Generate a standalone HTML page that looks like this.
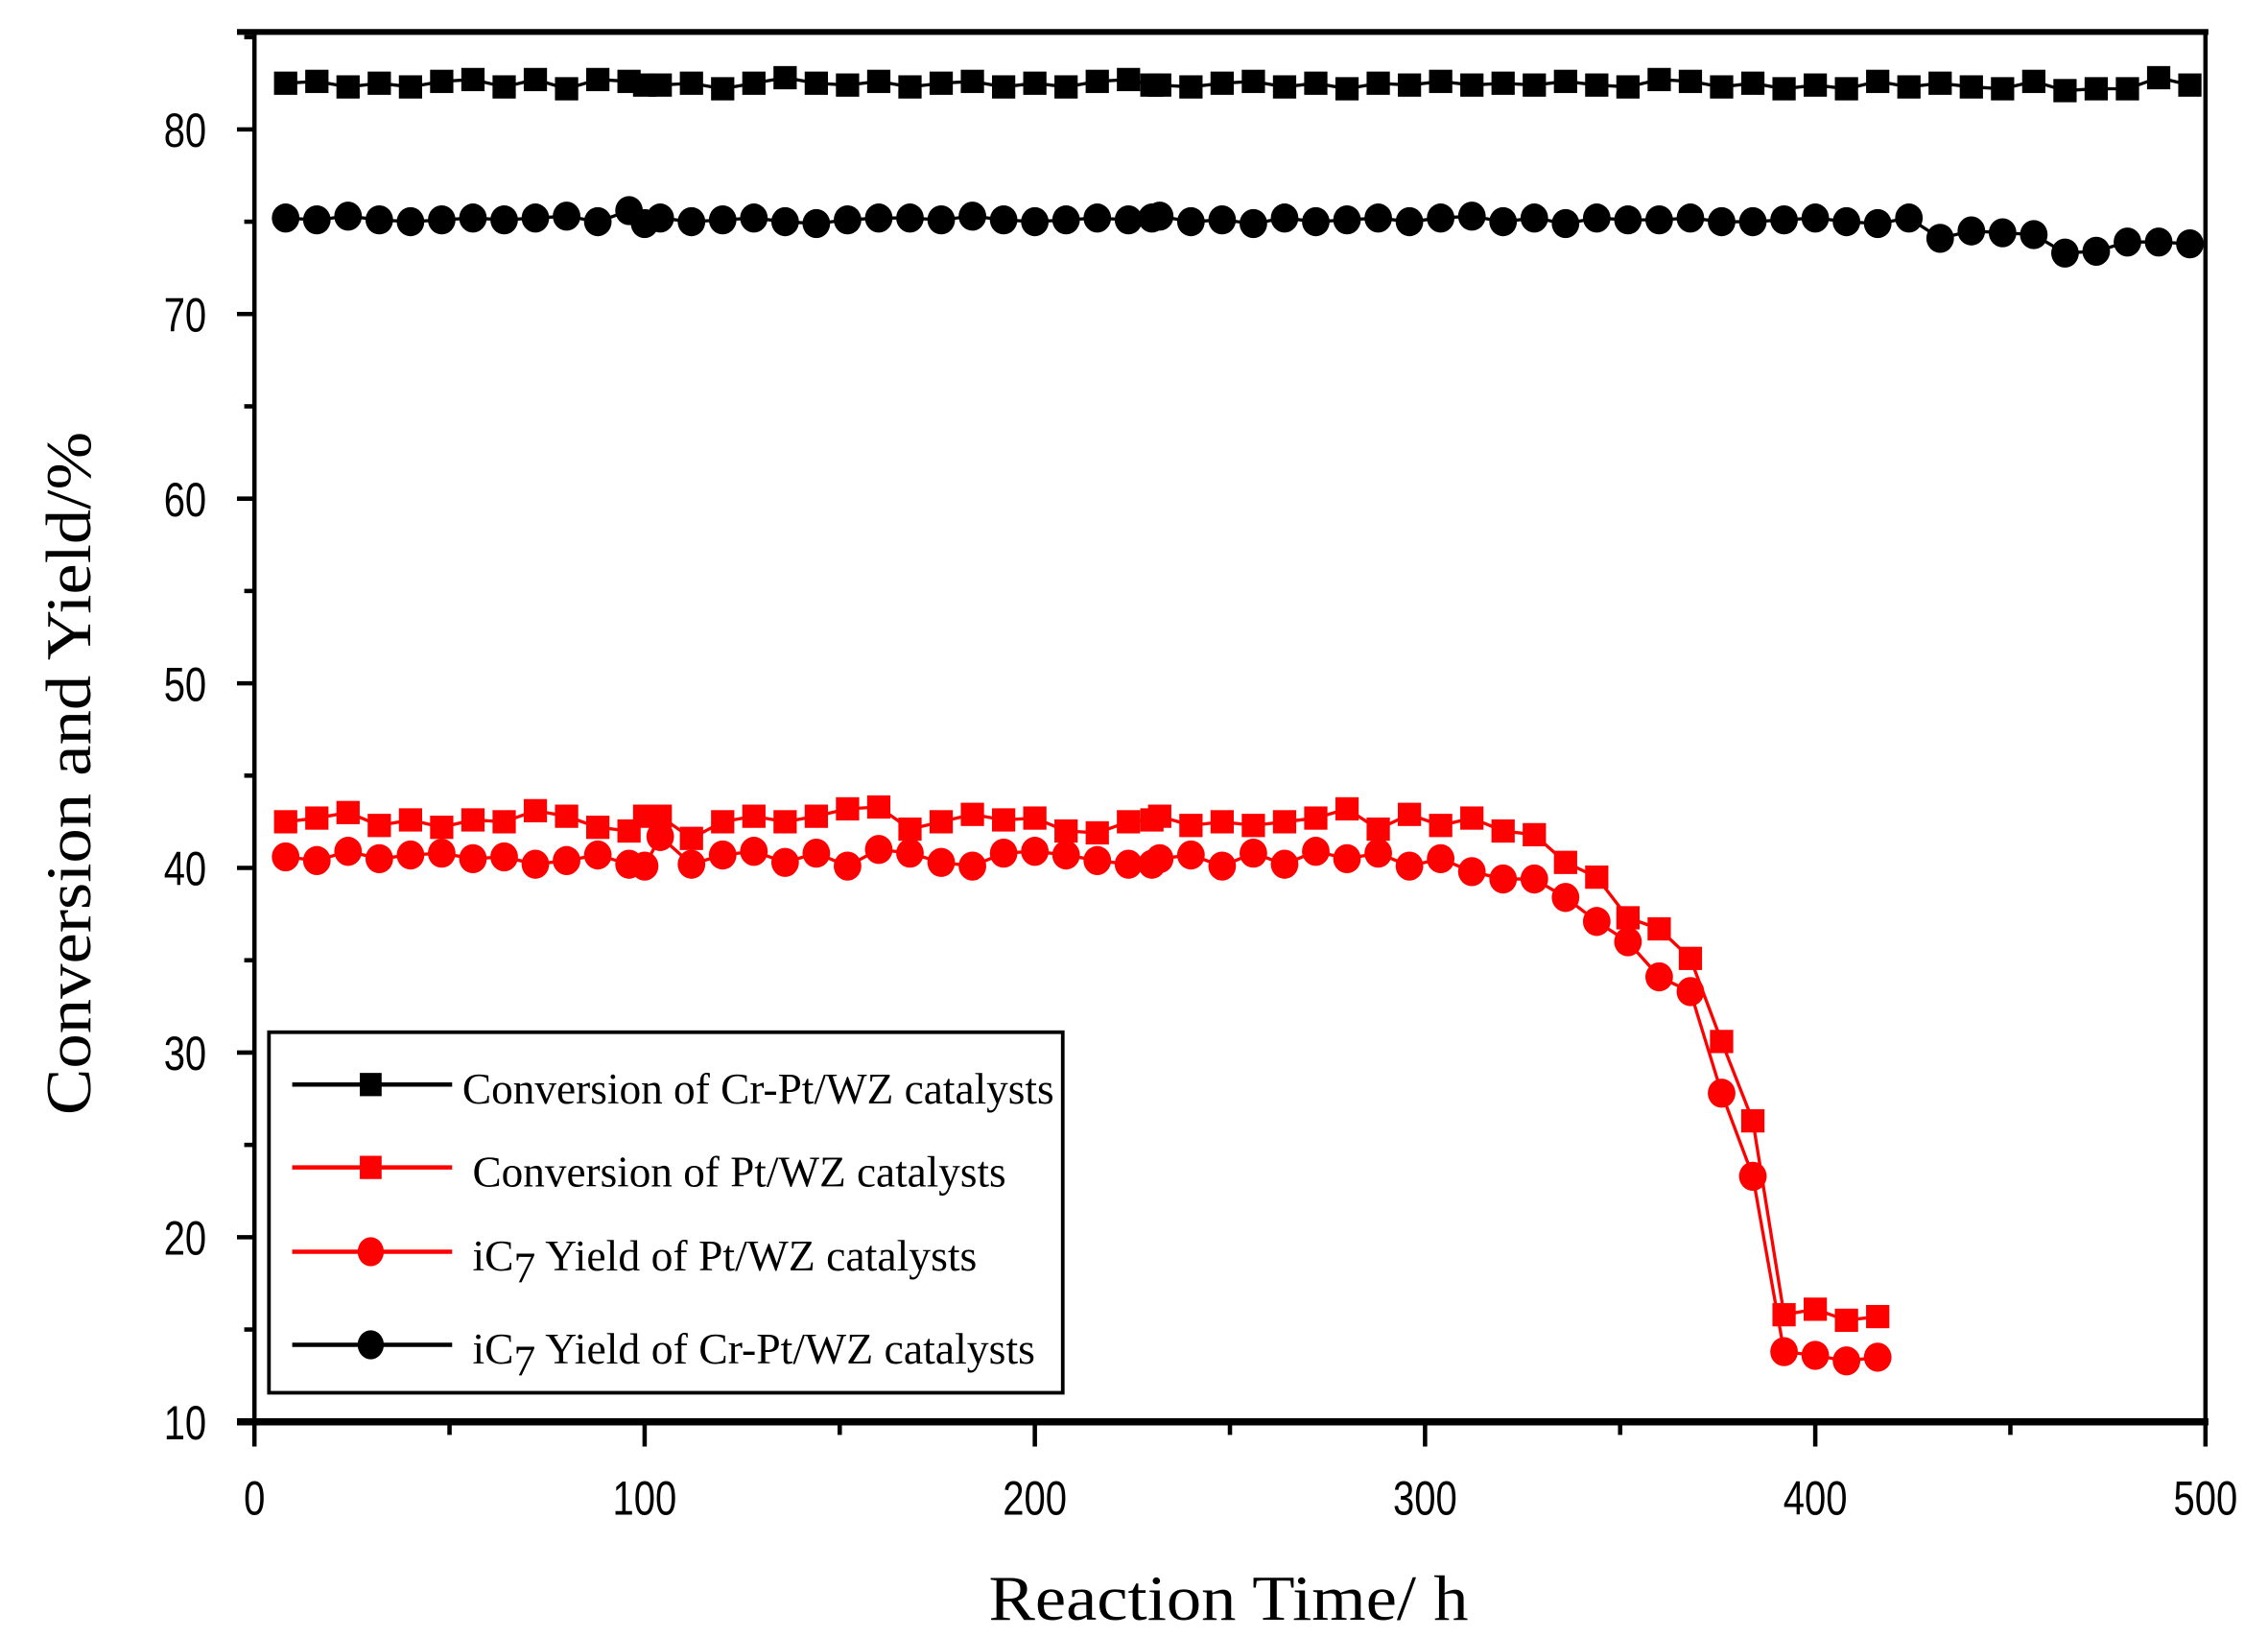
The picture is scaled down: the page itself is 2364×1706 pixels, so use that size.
<!DOCTYPE html>
<html><head><meta charset="utf-8"><style>
html,body{margin:0;padding:0;background:#fff;}
svg{display:block;}
</style></head><body>
<svg id="s" width="2364" height="1706" viewBox="0 0 1560 1126" preserveAspectRatio="none" xmlns="http://www.w3.org/2000/svg">
<rect width="1560" height="1126" fill="#fff"/>
<g id="series"></g>
<g id="axes" stroke="#000" fill="none">
<line x1="175" y1="22" x2="175" y2="980" stroke-width="3"/>
<line x1="1517" y1="22" x2="1517" y2="980" stroke-width="3"/>
<line x1="163" y1="22" x2="1519" y2="22" stroke-width="4"/>
<line x1="163" y1="978" x2="1519" y2="978" stroke-width="5"/>
</g>
<g id="ticks" stroke="#000" stroke-width="3"></g>
<g font-family="Liberation Sans, sans-serif" font-size="33" fill="#000" id="labels"></g>
<g id="legend">
<rect x="185" y="710" width="546" height="248" fill="#fff" stroke="#000" stroke-width="2.5"/>
</g>
<text x="845" y="1114" font-family="Liberation Serif, serif" font-size="44" text-anchor="middle" textLength="330" lengthAdjust="spacingAndGlyphs">Reaction Time/ h</text>
<text transform="translate(62,532) rotate(-90)" font-family="Liberation Serif, serif" font-size="44" text-anchor="middle" textLength="470" lengthAdjust="spacingAndGlyphs">Conversion and Yield/%</text>
</svg>
<script>
var NS="http://www.w3.org/2000/svg";
function el(p,t,a,txt){var e=document.createElementNS(NS,t);for(var k in a)e.setAttribute(k,a[k]);if(txt!=null)e.textContent=txt;p.appendChild(e);return e;}
function X(h){return 175+h*(1342/500);}
function Y(v){return 978-(v-10)*12.7;}
var tk=document.getElementById('ticks'),lb=document.getElementById('labels');
for(var v=10;v<=85;v+=5){var maj=v%10==0;el(tk,'line',{x1:maj?163:168,x2:175,y1:Y(v),y2:Y(v)});
 if(maj)el(lb,'text',{transform:'translate(142,'+(Y(v)+12)+') scale(0.8,1)','text-anchor':'end'},v);}
for(var h=0;h<=500;h+=50){var maj=h%100==0;el(tk,'line',{x1:X(h),x2:X(h),y1:978,y2:maj?995:987});
 if(maj)el(lb,'text',{transform:'translate('+X(h)+',1042) scale(0.8,1)','text-anchor':'middle'},h);}
var g=document.getElementById('series');
function series(pts,col,shape){
 var d=pts.map(function(p){return X(p[0])+','+Y(p[1]);}).join(' ');
 el(g,'polyline',{points:d,fill:'none',stroke:col,'stroke-width':2.2});
 pts.forEach(function(p){var x=X(p[0]),y=Y(p[1]);
  if(shape=='s')el(g,'rect',{x:x-8,y:y-8,width:16,height:16,fill:col});
  else el(g,'ellipse',{cx:x,cy:y,rx:9.5,ry:10,fill:col});});
}
var bs=[],j1=[82.5,82.6,82.3,82.5,82.3,82.6,82.7,82.3,82.7,82.2,82.7,82.6,82.4,82.5,82.2,82.5,82.8,82.5,82.4,82.6,82.3,82.5,82.6,82.3,82.5,82.3,82.6,82.7,82.4,82.3,82.5,82.6,82.3,82.5,82.2,82.5,82.4,82.6,82.4,82.5,82.4,82.6,82.4,82.3,82.7,82.6,82.3,82.5,82.2,82.4,82.2,82.6,82.3,82.5,82.3,82.2,82.6,82.1,82.2,82.2,82.8,82.4,82.2,82.4,82.3,82.1];
var k=0;for(var h=8;h<=496;h+=8){bs.push([h,j1[k%j1.length]]);k++;if(h==96)bs.push([100,82.4]);if(h==224)bs.push([230,82.4]);}
var bc=[],j2=[75.2,75.1,75.3,75.1,75.0,75.1,75.2,75.1,75.2,75.3,75.0,75.6,75.2,75.0,75.1,75.2,75.0,74.9,75.1,75.2,75.2,75.1,75.3,75.1,75.0,75.1,75.2,75.1,75.3,75.0,75.1,74.9,75.2,75.0,75.1,75.2,75.0,75.2,75.3,75.0,75.2,74.9,75.2,75.1,75.1,75.2,75.0,75.0,75.1,75.2,75.0,74.9];
k=0;for(var h=8;h<=424;h+=8){bc.push([h,j2[k%j2.length]]);k++;if(h==96)bc.push([100,74.9]);if(h==224)bc.push([230,75.2]);}
[[432,74.1],[440,74.5],[448,74.4],[456,74.3],[464,73.3],[472,73.4],[480,73.9],[488,73.9],[496,73.8]].forEach(function(p){bc.push(p);});
var rs=[],j3=[42.5,42.7,43.0,42.3,42.6,42.2,42.6,42.5,43.1,42.8,42.2,42.0,42.8,41.6,42.5,42.8,42.5,42.8,43.2,43.3,42.1,42.5,42.9,42.6,42.7,42.0,41.9,42.5,42.8,42.3,42.5,42.3,42.5,42.7,43.2,42.1,42.9,42.3,42.7,42.0,41.8];
k=0;for(var h=8;h<=328;h+=8){rs.push([h,j3[k%j3.length]]);k++;if(h==96)rs.push([100,42.8]);if(h==224)rs.push([230,42.6]);}
[[336,40.3],[344,39.5],[352,37.3],[360,36.7],[368,35.1],[376,30.6],[384,26.3],[392,15.8],[400,16.1],[408,15.5],[416,15.7]].forEach(function(p){rs.push(p);});
var rc=[],j4=[40.6,40.4,40.9,40.5,40.7,40.8,40.5,40.6,40.2,40.4,40.7,40.2,41.7,40.2,40.7,40.9,40.3,40.8,40.1,41.0,40.8,40.3,40.1,40.8,40.9,40.7,40.4,40.2,40.5,40.7,40.1,40.8,40.2,40.9,40.5,40.8,40.1,40.5,39.8,39.4];
k=0;for(var h=8;h<=320;h+=8){rc.push([h,j4[k%j4.length]]);k++;if(h==96)rc.push([100,40.1]);if(h==224)rc.push([230,40.2]);}
[[328,39.4],[336,38.4],[344,37.1],[352,36.0],[360,34.1],[368,33.3],[376,27.8],[384,23.3],[392,13.8],[400,13.6],[408,13.3],[416,13.5]].forEach(function(p){rc.push(p);});
series(bs,'#000','s');series(bc,'#000','c');series(rs,'#f00','s');series(rc,'#f00','c');
var lg=document.getElementById('legend');
var items=[[746,'#000','s','Conversion of Cr-Pt/WZ catalysts',318,407],[803,'#f00','s','Conversion of Pt/WZ catalysts',325,367],[861,'#f00','c','Yield of Pt/WZ catalysts',325,347],[925,'#000','c','Yield of Cr-Pt/WZ catalysts',325,387]];
items.forEach(function(it){var y=it[0];
 el(lg,'line',{x1:201,x2:311,y1:y,y2:y,stroke:it[1],'stroke-width':3});
 if(it[2]=='s')el(lg,'rect',{x:247.5,y:y-8,width:15,height:16,fill:it[1]});else el(lg,'ellipse',{cx:255,cy:y,rx:9,ry:10,fill:it[1]});
 if(it[2]=='s'){el(lg,'text',{x:it[4],y:y+13,'font-family':'Liberation Serif, serif','font-size':30,textLength:it[5],lengthAdjust:'spacingAndGlyphs'},it[3]);}
 else{
  var t2=el(lg,'text',{x:it[4],y:y+13,'font-family':'Liberation Serif, serif','font-size':30});
  var a=document.createElementNS(NS,'tspan');a.textContent='iC';t2.appendChild(a);
  var b=document.createElementNS(NS,'tspan');b.setAttribute('dy','8');b.textContent='7';t2.appendChild(b);
  var c=document.createElementNS(NS,'tspan');c.setAttribute('dy','-8');c.setAttribute('x',it[4]+50);c.setAttribute('textLength',it[5]-50);c.setAttribute('lengthAdjust','spacingAndGlyphs');c.textContent=it[3];t2.appendChild(c);
 }
});
</script>
</body></html>
